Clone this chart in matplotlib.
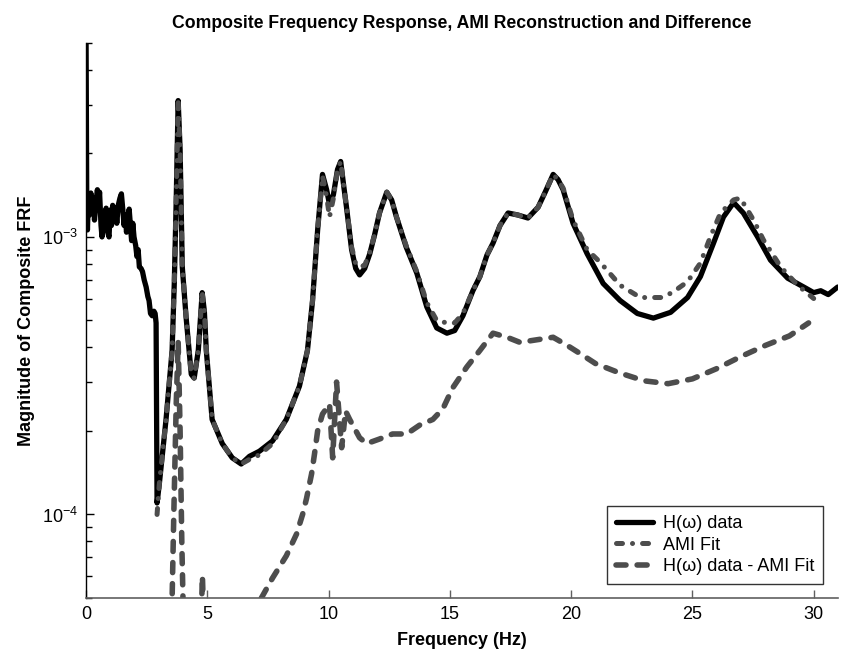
import matplotlib
matplotlib.use("Agg")
import matplotlib.pyplot as plt
from matplotlib.ticker import LogLocator, NullFormatter, FixedLocator

plt.rcParams['font.family'] = ['Liberation Sans', 'DejaVu Sans']
plt.rcParams['mathtext.fontset'] = 'custom'
plt.rcParams['mathtext.rm'] = 'Liberation Sans'
plt.rcParams['mathtext.it'] = 'Liberation Sans:italic'
plt.rcParams['mathtext.bf'] = 'Liberation Sans:bold'

# ---- data ----
# H(w) data, noisy low-frequency part
freq_h_low = [0.0, 0.03, 0.06, 0.1, 0.14, 0.2, 0.25, 0.3, 0.35, 0.42, 0.47, 0.52, 0.56,
              0.62, 0.66, 0.72, 0.77, 0.83, 0.88, 0.95, 1.0, 1.05, 1.1, 1.16, 1.22, 1.27,
              1.33, 1.4, 1.46, 1.52, 1.57, 1.62, 1.67, 1.73, 1.78, 1.83, 1.88, 1.93,
              1.98, 2.05, 2.1, 2.15, 2.2, 2.27, 2.33, 2.4, 2.48, 2.55, 2.6, 2.66, 2.73,
              2.8, 2.85, 2.89, 2.9]
mag_h_low = [6e-3, 1.45e-3, 1.06e-3, 1.4e-3, 1.2e-3, 1.44e-3, 1.25e-3, 1.38e-3, 1.15e-3,
             1.35e-3, 1.48e-3, 1.3e-3, 1.45e-3, 1.1e-3, 1.0e-3, 1.2e-3, 1.08e-3, 1.27e-3,
             1.05e-3, 1.0e-3, 1.25e-3, 1.1e-3, 1.3e-3, 1.15e-3, 1.27e-3, 1.12e-3, 1.3e-3,
             1.38e-3, 1.43e-3, 1.25e-3, 1.1e-3, 1.2e-3, 1.04e-3, 1.18e-3, 1.26e-3,
             1.1e-3, 0.97e-3, 1.12e-3, 1.0e-3, 0.93e-3, 0.85e-3, 0.9e-3, 0.78e-3,
             0.77e-3, 0.75e-3, 0.7e-3, 6.6e-4, 6.1e-4, 5.9e-4, 5.3e-4, 5.2e-4, 5.4e-4,
             5.3e-4, 4.9e-4, 3.5e-4]
# H(w) data, modal part
freq_h_main = [2.93, 3.02, 3.3, 3.55, 3.64, 3.72, 3.8, 3.88, 3.97, 4.13, 4.34, 4.46, 4.63,
               4.79, 4.88, 4.96, 5.2, 5.62, 6.03, 6.4, 6.74, 7.15, 7.69, 8.26, 8.8,
               9.13, 9.34, 9.55, 9.75, 9.92, 10.04, 10.2, 10.37, 10.5, 10.62, 10.74,
               10.95, 11.12, 11.28, 11.49, 11.7, 11.9, 12.1, 12.4, 12.6, 12.8, 13.2,
               13.64, 14.05, 14.46, 14.88, 15.2, 15.54, 15.95, 16.24, 16.53, 16.78,
               17.07, 17.4, 17.8, 18.22, 18.64, 18.93, 19.26, 19.46, 19.67, 20.08,
               20.66, 21.32, 22.02, 22.73, 23.39, 24.1, 24.8, 25.33, 25.87, 26.28, 26.7,
               27.1, 27.69, 28.22, 28.93, 29.59, 30.0, 30.29, 30.6, 30.99]
mag_h_main = [1.1e-4, 1.28e-4, 2.2e-4, 3.9e-4, 6.8e-4, 1.36e-3, 3.1e-3, 2.07e-3, 7.8e-4,
              5.1e-4, 3.2e-4, 3.1e-4, 3.9e-4, 6.3e-4, 5.4e-4, 3.9e-4, 2.2e-4, 1.8e-4,
              1.6e-4, 1.52e-4, 1.62e-4, 1.69e-4, 1.84e-4, 2.2e-4, 2.9e-4, 3.9e-4,
              5.9e-4, 1.06e-3, 1.68e-3, 1.48e-3, 1.31e-3, 1.42e-3, 1.75e-3, 1.87e-3,
              1.54e-3, 1.28e-3, 9.0e-4, 7.7e-4, 7.3e-4, 7.7e-4, 8.7e-4, 1.02e-3,
              1.22e-3, 1.45e-3, 1.36e-3, 1.18e-3, 9.2e-4, 7.4e-4, 5.6e-4, 4.7e-4,
              4.5e-4, 4.6e-4, 5.2e-4, 6.4e-4, 7.2e-4, 8.6e-4, 9.5e-4, 1.1e-3, 1.22e-3,
              1.2e-3, 1.17e-3, 1.28e-3, 1.45e-3, 1.68e-3, 1.61e-3, 1.48e-3, 1.12e-3,
              8.7e-4, 6.8e-4, 5.9e-4, 5.3e-4, 5.1e-4, 5.35e-4, 6.05e-4, 7.2e-4, 9.5e-4,
              1.18e-3, 1.33e-3, 1.22e-3, 1.0e-3, 8.25e-4, 7.1e-4, 6.6e-4, 6.3e-4,
              6.4e-4, 6.2e-4, 6.6e-4]

freq_fit = [2.93, 3.02, 3.3, 3.55, 3.64, 3.72, 3.8, 3.88, 3.97, 4.13, 4.34, 4.46, 4.63,
            4.79, 4.88, 4.96, 5.2, 5.62, 6.03, 6.4, 6.74, 7.15, 7.69, 8.26, 8.8, 9.13,
            9.34, 9.55, 9.75, 9.92, 10.04, 10.2, 10.37, 10.5, 10.62, 10.74, 10.95,
            11.12, 11.28, 11.49, 11.7, 11.9, 12.1, 12.4, 12.6, 12.8, 13.2, 13.64, 14.05,
            14.46, 14.88, 15.2, 15.54, 15.95, 16.24, 16.53, 16.78, 17.07, 17.4, 17.8,
            18.22, 18.64, 18.93, 19.26, 19.46, 19.67, 20.08, 20.66, 21.2, 22.02, 22.85,
            23.7, 24.17, 24.8, 25.33, 25.74, 26.16, 26.7, 26.98, 27.52, 27.93, 28.64,
            29.34, 30.0]
mag_fit = [1.0e-4, 1.28e-4, 2.2e-4, 3.9e-4, 6.8e-4, 1.36e-3, 3.1e-3, 2.07e-3, 7.8e-4,
           5.1e-4, 3.2e-4, 3.1e-4, 3.9e-4, 6.3e-4, 5.4e-4, 3.9e-4, 2.2e-4, 1.8e-4,
           1.6e-4, 1.52e-4, 1.58e-4, 1.64e-4, 1.8e-4, 2.2e-4, 2.9e-4, 3.9e-4, 5.9e-4,
           1.06e-3, 1.66e-3, 1.4e-3, 1.18e-3, 1.38e-3, 1.75e-3, 1.87e-3, 1.54e-3,
           1.28e-3, 9.2e-4, 8.0e-4, 7.8e-4, 7.9e-4, 8.8e-4, 1.02e-3, 1.22e-3, 1.45e-3,
           1.36e-3, 1.18e-3, 9.3e-4, 7.5e-4, 5.8e-4, 5.0e-4, 4.9e-4, 4.9e-4, 5.3e-4,
           6.4e-4, 7.2e-4, 8.6e-4, 9.5e-4, 1.1e-3, 1.22e-3, 1.2e-3, 1.17e-3, 1.28e-3,
           1.45e-3, 1.68e-3, 1.61e-3, 1.5e-3, 1.15e-3, 9.0e-4, 8.1e-4, 6.7e-4, 6.05e-4,
           6.05e-4, 6.3e-4, 6.9e-4, 8.05e-4, 1.0e-3, 1.22e-3, 1.36e-3, 1.38e-3, 1.15e-3,
           9.75e-4, 7.8e-4, 6.7e-4, 6.0e-4]

freq_diff = [3.5, 3.62, 3.72, 3.8, 3.88, 3.95, 4.05, 4.7, 4.8, 4.9, 7.0, 7.23, 7.69,
             8.26, 8.68, 8.93, 9.09, 9.3, 9.42, 9.55, 9.75, 10.04, 10.17, 10.33, 10.54,
             10.7, 10.87, 11.28, 11.57, 12.1, 12.64, 13.22, 13.76, 14.3, 14.71, 15.12,
             15.7, 16.24, 16.78, 17.36, 17.89, 18.43, 19.26, 19.83, 20.37, 21.0, 21.98,
             23.02, 24.0, 25.0, 25.99, 26.98, 28.02, 29.0, 29.79]
mag_diff = [3.0e-5, 1.0e-4, 2.5e-4, 4.2e-4, 2.0e-4, 8.0e-5, 3.0e-5, 3.0e-5, 6.0e-5,
            3.0e-5, 4.0e-5, 5.0e-5, 5.9e-5, 7.1e-5, 8.5e-5, 1.0e-4, 1.14e-4, 1.4e-4,
            1.65e-4, 2.0e-4, 2.3e-4, 2.5e-4, 1.6e-4, 3.0e-4, 1.74e-4, 2.36e-4, 2.2e-4,
            1.89e-4, 1.8e-4, 1.87e-4, 1.95e-4, 1.95e-4, 2.1e-4, 2.2e-4, 2.4e-4, 2.86e-4,
            3.4e-4, 3.9e-4, 4.5e-4, 4.35e-4, 4.17e-4, 4.24e-4, 4.35e-4, 4.07e-4, 3.8e-4,
            3.5e-4, 3.24e-4, 3.03e-4, 2.96e-4, 3.08e-4, 3.35e-4, 3.7e-4, 4.07e-4, 4.4e-4,
            4.9e-4]

x_ticks = [0, 5, 10, 15, 20, 25, 30]
labels = ['H(\u03c9) data', 'AMI Fit', 'H(\u03c9) data - AMI Fit']
title = 'Composite Frequency Response, AMI Reconstruction and Difference'

freq_h = freq_h_low + freq_h_main
mag_h = mag_h_low + mag_h_main

# ---- figure ----
fig = plt.figure(figsize=(8.43, 6.56), dpi=100)
ax = fig.add_axes([0.102, 0.0884, 0.892, 0.8461])

gray = '#4d4d4d'
ax.plot(freq_h, mag_h, color='black', lw=3.8, solid_capstyle='round',
        solid_joinstyle='round', label=labels[0])
ax.plot(freq_fit, mag_fit, color=gray, lw=3.6, ls=(0, (1.2, 2.0, 0.01, 2.0)),
        dash_capstyle='round', label=labels[1])
ax.plot(freq_diff, mag_diff, color=gray, lw=4.0, ls=(0, (1.8, 2.0)),
        dash_capstyle='round', label=labels[2])

ax.set_yscale('log')
ax.set_xlim(0, 31)
ax.set_ylim(5e-5, 5e-3)
ax.xaxis.set_major_locator(FixedLocator(x_ticks))
ax.yaxis.set_minor_locator(LogLocator(base=10, subs=range(2, 10), numticks=20))
ax.yaxis.set_minor_formatter(NullFormatter())
ax.set_yticks([1e-4, 1e-3])
ax.set_yticklabels([r'$10^{-4}$', r'$10^{-3}$'])

for s in ['top', 'right']:
    ax.spines[s].set_visible(False)
ax.spines['left'].set_color('black')
ax.spines['bottom'].set_color('#606060')
ax.spines['left'].set_linewidth(1.0)
ax.spines['bottom'].set_linewidth(1.2)

ax.tick_params(axis='both', which='major', direction='in', length=6, width=1,
               labelsize=13, pad=6)
ax.tick_params(axis='y', which='minor', direction='in', length=4, width=1)
ax.tick_params(axis='x', which='major', color='#606060')

ax.set_xlabel('Frequency (Hz)', fontsize=13, fontweight='bold', labelpad=6)
ax.set_ylabel('Magnitude of Composite FRF', fontsize=13, fontweight='bold', labelpad=5)
ax.set_title(title, fontsize=12.7, fontweight='bold', pad=11)

leg = ax.legend(loc='lower right', bbox_to_anchor=(0.98, 0.025), fontsize=13,
                frameon=True, fancybox=False, handlelength=2.0, borderpad=0.5,
                labelspacing=0.25, handletextpad=0.55, borderaxespad=0.0)
leg.get_frame().set_edgecolor('black')
leg.get_frame().set_linewidth(1.0)

fig.savefig('out.png', dpi=100)
